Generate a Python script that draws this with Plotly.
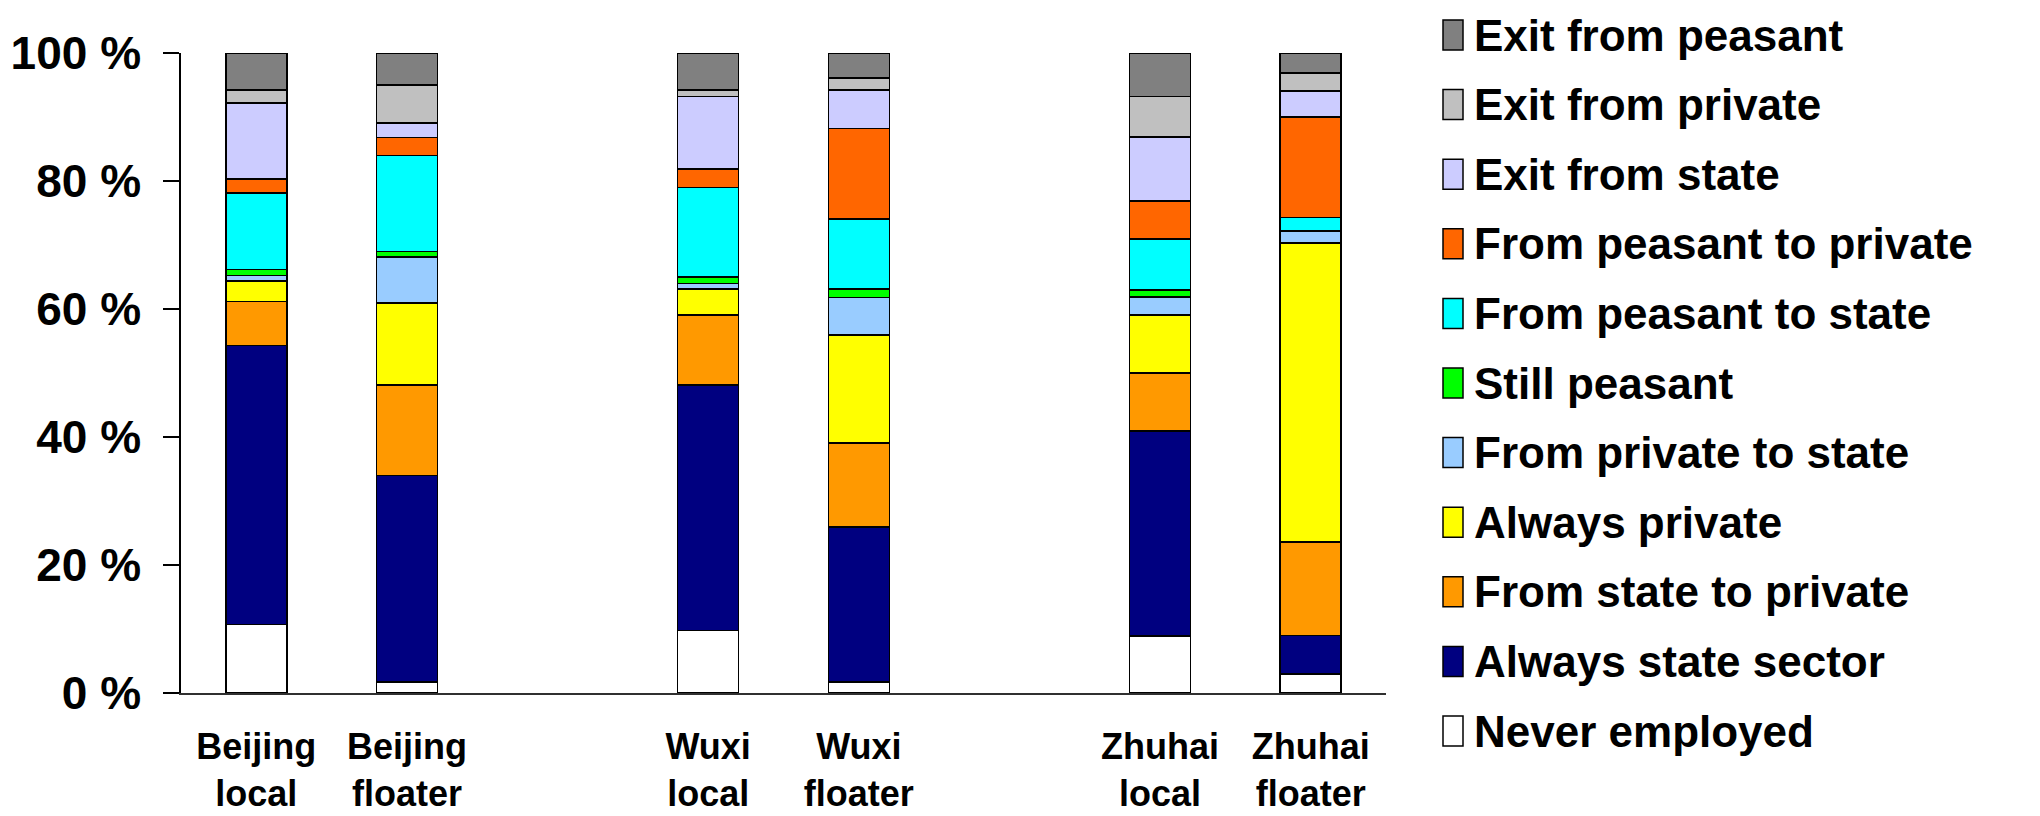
import plotly.graph_objects as go

# ---- data ----
categories = ["Beijing<br>local", "Beijing<br>floater", " ",
              "Wuxi<br>local", "Wuxi<br>floater", "  ",
              "Zhuhai<br>local", "Zhuhai<br>floater"]
bar_categories = ["Beijing<br>local", "Beijing<br>floater",
                  "Wuxi<br>local", "Wuxi<br>floater",
                  "Zhuhai<br>local", "Zhuhai<br>floater"]

never_employed      = [10.7, 1.7, 9.8, 1.7, 8.9, 3.0]
always_state        = [43.6, 32.3, 38.3, 24.2, 32.0, 6.0]
state_to_private    = [6.9, 14.1, 11.0, 13.2, 9.1, 14.6]
always_private      = [3.2, 12.8, 4.0, 16.8, 9.1, 46.7]
private_to_state    = [0.8, 7.2, 0.9, 5.9, 2.8, 1.9]
still_peasant       = [1.0, 0.9, 1.0, 1.3, 1.1, 0.0]
peasant_to_state    = [11.9, 15.0, 14.0, 11.0, 7.9, 2.1]
peasant_to_private  = [2.2, 2.8, 2.9, 14.1, 6.0, 15.7]
exit_state          = [11.9, 2.3, 11.3, 6.0, 10.0, 4.1]
exit_private        = [2.0, 5.9, 1.0, 1.9, 6.3, 2.8]
exit_peasant        = [5.8, 5.0, 5.8, 3.9, 6.8, 3.1]

series_names = ["Never employed", "Always state sector", "From state to private",
                "Always private", "From private to state", "Still peasant",
                "From peasant to state", "From peasant to private",
                "Exit from state", "Exit from private", "Exit from peasant"]
series_values = [never_employed, always_state, state_to_private, always_private,
                 private_to_state, still_peasant, peasant_to_state,
                 peasant_to_private, exit_state, exit_private, exit_peasant]
series_colors = ["#FFFFFF", "#000080", "#FF9900", "#FFFF00", "#99CCFF", "#00FF00",
                 "#00FFFF", "#FF6600", "#CCCCFF", "#C0C0C0", "#808080"]

tick_vals = [0, 20, 40, 60, 80, 100]
tick_labels = ["0 %", "20 %", "40 %", "60 %", "80 %", "100 %"]

# ---- layout constants (pixels, figure coordinates; page body adds 8px offset) ----
OFF = 8
W, H = 2040 - OFF, 816 - OFF
PL, PR, PT, PB = 181 - OFF, 1386 - OFF, 53 - OFF, 693 - OFF
FONT = "Liberation Sans, Arial, sans-serif"


def px_x(px):
    return (px - OFF - PL) / (PR - PL)


def px_y(py):
    return (PB - (py - OFF)) / (PB - PT)


fig = go.Figure()
for name, vals, col in zip(series_names, series_values, series_colors):
    fig.add_trace(go.Bar(
        x=bar_categories, y=vals, name=name,
        marker=dict(color=col, line=dict(color="black", width=1.5)),
        showlegend=False,
    ))

# legend drawn as swatches + text, top row = last series
shapes = []
annotations = []
row0, step = 35, 69.6
for i, (name, col) in enumerate(zip(reversed(series_names), reversed(series_colors))):
    cy = row0 + i * step
    shapes.append(dict(type="rect", xref="paper", yref="paper",
                       x0=px_x(1443), x1=px_x(1463),
                       y0=px_y(cy + 15), y1=px_y(cy - 15),
                       fillcolor=col, line=dict(color="black", width=1.5)))
    annotations.append(dict(xref="paper", yref="paper", x=px_x(1472), y=px_y(cy),
                            xanchor="left", yanchor="middle", showarrow=False,
                            text=name,
                            font=dict(family=FONT, size=44, color="black", weight="bold")))

fig.update_layout(
    width=W, height=H,
    margin=dict(l=PL, r=W - PR, t=PT, b=H - PB, autoexpand=False),
    barmode="stack", bargap=0.595,
    paper_bgcolor="white", plot_bgcolor="white",
    shapes=shapes, annotations=annotations,
    xaxis=dict(type="category", categoryorder="array", categoryarray=categories,
               range=[-0.5, len(categories) - 0.5], automargin=False,
               showline=True, linecolor="#303030", linewidth=1.5,
               ticks="", showgrid=False, zeroline=False,
               tickfont=dict(family=FONT, size=36, color="black", weight="bold"),
               ticklabelstandoff=21),
    yaxis=dict(range=[0, 100], tickmode="array", tickvals=tick_vals, ticktext=tick_labels,
               automargin=False,
               showline=True, linecolor="black", linewidth=1.5,
               ticks="outside", ticklen=16, tickwidth=1.5, tickcolor="black",
               showgrid=False, zeroline=False,
               tickfont=dict(family=FONT, size=46, color="black", weight="bold"),
               ticklabelstandoff=13),
)

fig.write_html("out.html")
